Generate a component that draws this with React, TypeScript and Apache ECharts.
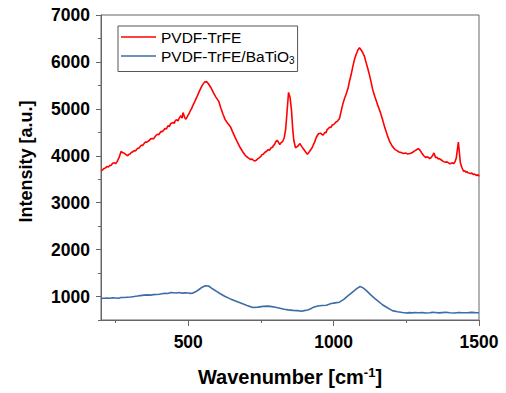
import React, { useEffect, useRef } from "react";
import * as echarts from "echarts";

const xTickLabels = [500, 1000, 1500];
const xMinorTicks = [250, 750, 1250];
const yTickLabels = [1000, 2000, 3000, 4000, 5000, 6000, 7000];
const yMinorTicks = [500, 1500, 2500, 3500, 4500, 5500, 6500];

const seriesNames = ["PVDF-TrFE", "PVDF-TrFE/BaTiO3"];

const pvdfWavenumber = [
  200, 206, 210, 215, 220, 225, 230, 235, 240, 246, 250, 255, 262, 269, 274, 278, 285, 292, 296, 300, 304, 308, 314, 318, 322, 326, 330, 335, 340, 344, 348, 352, 356,
  360, 365, 371, 377, 381, 385, 390, 395, 399, 403, 407, 411, 416, 420, 425, 430, 435, 440, 444, 448, 452, 455, 459, 462, 465, 468, 472, 475, 479, 482, 487, 491, 495, 498, 503, 508, 512, 515,
  522, 531, 540, 548, 556, 563, 570, 578, 587, 595, 605, 612, 620, 627, 635, 645, 652, 662, 670, 679,
  688, 696, 705, 715, 720, 725, 730, 735, 740, 745, 750, 753, 758, 763, 768, 775, 780, 785, 790, 793, 797, 800, 806, 811, 815, 818, 822, 826, 830, 835, 840,
  845, 850, 855, 859, 863, 869, 876, 884, 890, 897, 904, 910, 917, 926, 930, 934, 938, 941, 948, 955, 963, 966, 970, 974,
  978, 982, 986, 990, 995, 1000, 1003, 1008, 1012, 1016, 1020, 1026, 1032, 1038, 1043, 1050, 1055, 1060, 1066, 1072, 1078, 1084, 1089, 1094, 1100,
  1106, 1112, 1118, 1123, 1129, 1134, 1142, 1151, 1160, 1168, 1176, 1185, 1193, 1202, 1212, 1218, 1225, 1232, 1240, 1247, 1254, 1263, 1271,
  1280, 1291, 1297, 1303, 1310, 1317, 1321, 1325, 1330, 1334, 1340, 1345, 1351, 1355, 1360, 1364, 1368, 1373, 1377, 1381, 1385, 1390, 1395, 1400, 1405, 1409, 1413, 1418, 1422,
  1426, 1429, 1432, 1436, 1441, 1447, 1451, 1455, 1459, 1462, 1466, 1470, 1475, 1480, 1485, 1489, 1493, 1497, 1500,
];
const pvdfIntensity = [
  3680, 3700, 3730, 3740, 3770, 3760, 3790, 3800, 3840, 3850, 3830, 3870, 3960, 4090, 4070, 4060, 4030, 4000, 4030, 4040, 4070, 4080, 4110, 4100, 4130, 4160, 4160, 4200, 4230, 4220, 4260, 4290, 4290,
  4300, 4320, 4360, 4370, 4360, 4400, 4440, 4460, 4450, 4490, 4520, 4510, 4550, 4580, 4570, 4640, 4620, 4690, 4700, 4710, 4690, 4740, 4770, 4760, 4740, 4790, 4830, 4850, 4800, 4920, 4830, 4780, 4810, 4850, 4900, 4970, 5010, 5060,
  5150, 5270, 5400, 5500, 5570, 5580, 5530, 5450, 5340, 5250, 5160, 5020, 4880, 4770, 4700, 4620, 4520, 4380, 4280, 4170,
  4080, 4010, 3960, 3920, 3930, 3900, 3890, 3910, 3940, 3960, 3990, 4020, 4030, 4070, 4090, 4130, 4120, 4170, 4180, 4220, 4240, 4290, 4330, 4280, 4240, 4270, 4290, 4320, 4380, 4560, 4950,
  5350, 5250, 4980, 4600, 4330, 4170, 4200, 4260, 4200, 4140, 4080, 4030, 4090, 4170, 4230, 4280, 4350, 4400, 4470, 4480, 4440, 4460, 4500, 4490,
  4560, 4580, 4610, 4600, 4650, 4670, 4680, 4720, 4730, 4760, 4790, 4950, 5110, 5230, 5310, 5450, 5600, 5720, 5900, 6060, 6170, 6260, 6300, 6260, 6200,
  6120, 5980, 5850, 5730, 5570, 5420, 5260, 5090, 4940, 4780, 4600, 4430, 4300, 4200, 4130, 4110, 4080, 4070, 4050, 4060, 4040, 4050, 4070,
  4110, 4150, 4120, 4060, 4000, 3960, 3980, 3970, 3940, 3950, 4000, 4060, 3960, 3970, 3930, 3940, 3920, 3900, 3880, 3870, 3860, 3870, 3850, 3830, 3840, 3850, 3830, 3880, 3960,
  4150, 4290, 4100, 3850, 3750, 3670, 3680, 3650, 3660, 3640, 3630, 3620, 3630, 3600, 3610, 3590, 3580, 3600, 3560,
];

const compositeWavenumber = [
  200, 210, 220, 230, 240, 250, 260, 269, 280, 290, 302, 314, 325, 335, 348, 360, 370, 380, 390, 400, 410, 420, 430, 440, 450, 460, 470, 479, 490, 500, 507, 514, 525, 536, 548,
  559, 570, 580, 590, 599, 610, 627, 645, 667, 685, 702, 715, 724, 740, 758, 775, 787, 800, 815, 830,
  844, 860, 875, 885, 895, 910, 918, 930, 946, 960, 975, 992, 1005, 1020, 1035, 1049, 1060, 1072, 1082, 1091, 1100,
  1112, 1125, 1140, 1155, 1168, 1185, 1202, 1220, 1237, 1250, 1260, 1270, 1280, 1292, 1305, 1318, 1330, 1340, 1350, 1362, 1373, 1386, 1400, 1415, 1430, 1445, 1460, 1473, 1487, 1500,
];
const compositeIntensity = [
  960, 965, 970, 962, 975, 970, 965, 980, 978, 985, 990, 1000, 1010, 1020, 1030, 1035, 1030, 1040, 1045, 1050, 1060, 1070, 1065, 1085, 1080, 1075, 1085, 1072, 1078, 1075, 1068, 1070, 1100, 1145, 1200,
  1230, 1225, 1180, 1140, 1105, 1060, 1000, 950, 895, 850, 810, 780, 765, 775, 790, 795, 785, 770, 752, 730,
  716, 705, 700, 690, 695, 715, 730, 770, 800, 810, 815, 850, 865, 880, 940, 1015, 1070, 1130, 1180, 1215, 1190,
  1130, 1050, 965, 890, 825, 760, 700, 675, 660, 650, 658, 652, 660, 654, 658, 650, 655, 662, 660, 652, 658, 664, 655, 650, 660, 654, 656, 662, 658, 655,
];

const FONT = "Arial, 'Liberation Sans', sans-serif";
const AXIS_COLOR = "#666";

export default function App() {
  const ref = useRef<HTMLDivElement>(null);
  useEffect(() => {
    if (!ref.current) return;
    const chart = echarts.init(ref.current, undefined, { renderer: "svg" });
    const pvdf = pvdfWavenumber.map((x, i) => [x, pvdfIntensity[i]]);
    const comp = compositeWavenumber.map((x, i) => [x, compositeIntensity[i]]);
    const labelStyle = {
      color: "#000", fontFamily: FONT, fontWeight: "bold" as const, fontSize: 17.5,
      formatter: (v: number) => String(v),
    };
    chart.setOption({
      animation: false,
      backgroundColor: "#fff",
      grid: {
        left: 101, right: 27, top: 15, bottom: 73,
        show: true, borderColor: AXIS_COLOR, borderWidth: 1, backgroundColor: "transparent",
      },
      legend: {
        orient: "vertical",
        left: 118, top: 26,
        padding: [3, 3, 6, 3],
        icon: "rect",
        itemWidth: 35, itemHeight: 1.6, itemGap: 3,
        borderColor: "#555", borderWidth: 1,
        data: seriesNames,
        formatter: (name: string) =>
          name === "PVDF-TrFE/BaTiO3" ? "{n|PVDF-TrFE/BaTiO}{s|3}" : "{n|" + name + "}",
        textStyle: {
          fontFamily: FONT, color: "#000",
          rich: {
            n: { fontFamily: FONT, fontSize: 15.5, color: "#000", lineHeight: 17 },
            s: { fontFamily: FONT, fontSize: 10, color: "#000", verticalAlign: "bottom", padding: [9, 0, 0, 0] },
          },
        },
      },
      xAxis: [
        {
          type: "value", min: 200, max: 1500,
          name: "{a|Wavenumber [cm}{b|-1}{a|]}",
          nameLocation: "middle", nameGap: 46,
          nameTextStyle: {
            rich: {
              a: { fontFamily: FONT, fontWeight: "bold", fontSize: 20, color: "#000" },
              b: { fontFamily: FONT, fontWeight: "bold", fontSize: 13, color: "#000", verticalAlign: "top", padding: [0, 0, 8, 0] },
            },
          },
          splitLine: { show: false },
          axisLine: { show: true, lineStyle: { color: AXIS_COLOR, width: 1 } },
          axisTick: { show: true, inside: false, length: 6, customValues: xTickLabels, lineStyle: { color: AXIS_COLOR } },
          axisLabel: { ...labelStyle, margin: 13, customValues: xTickLabels },
        },
        {
          type: "value", min: 200, max: 1500, position: "bottom",
          splitLine: { show: false },
          axisLine: { show: false },
          axisTick: { show: true, inside: false, length: 3, customValues: xMinorTicks, lineStyle: { color: AXIS_COLOR } },
          axisLabel: { show: false },
        },
      ],
      yAxis: [
        {
          type: "value", min: 500, max: 7000,
          name: "Intensity [a.u.]",
          nameLocation: "middle", nameGap: 66,
          nameTextStyle: { fontFamily: FONT, fontWeight: "bold", fontSize: 18, color: "#000", padding: [0, 0, 0, 12] },
          splitLine: { show: false },
          axisLine: { show: true, lineStyle: { color: AXIS_COLOR, width: 1 } },
          axisTick: { show: true, inside: false, length: 5, customValues: yTickLabels, lineStyle: { color: AXIS_COLOR } },
          axisLabel: { ...labelStyle, margin: 11, customValues: yTickLabels },
        },
        {
          type: "value", min: 500, max: 7000, position: "left",
          splitLine: { show: false },
          axisLine: { show: false },
          axisTick: { show: true, inside: false, length: 3, customValues: yMinorTicks, lineStyle: { color: AXIS_COLOR } },
          axisLabel: { show: false },
        },
      ],
      series: [
        {
          name: seriesNames[0], type: "line", data: pvdf, symbol: "none",
          xAxisIndex: 0, yAxisIndex: 0,
          lineStyle: { color: "#ff0000", width: 1.6 }, itemStyle: { color: "#ff0000" },
        },
        {
          name: seriesNames[1], type: "line", data: comp, symbol: "none",
          xAxisIndex: 0, yAxisIndex: 0,
          lineStyle: { color: "#3d6da6", width: 1.6 }, itemStyle: { color: "#3d6da6" },
        },
      ],
    });
    return () => chart.dispose();
  }, []);
  return <div ref={ref} style={{ width: 506, height: 393, position: "absolute", left: 0, top: 0 }} />;
}
